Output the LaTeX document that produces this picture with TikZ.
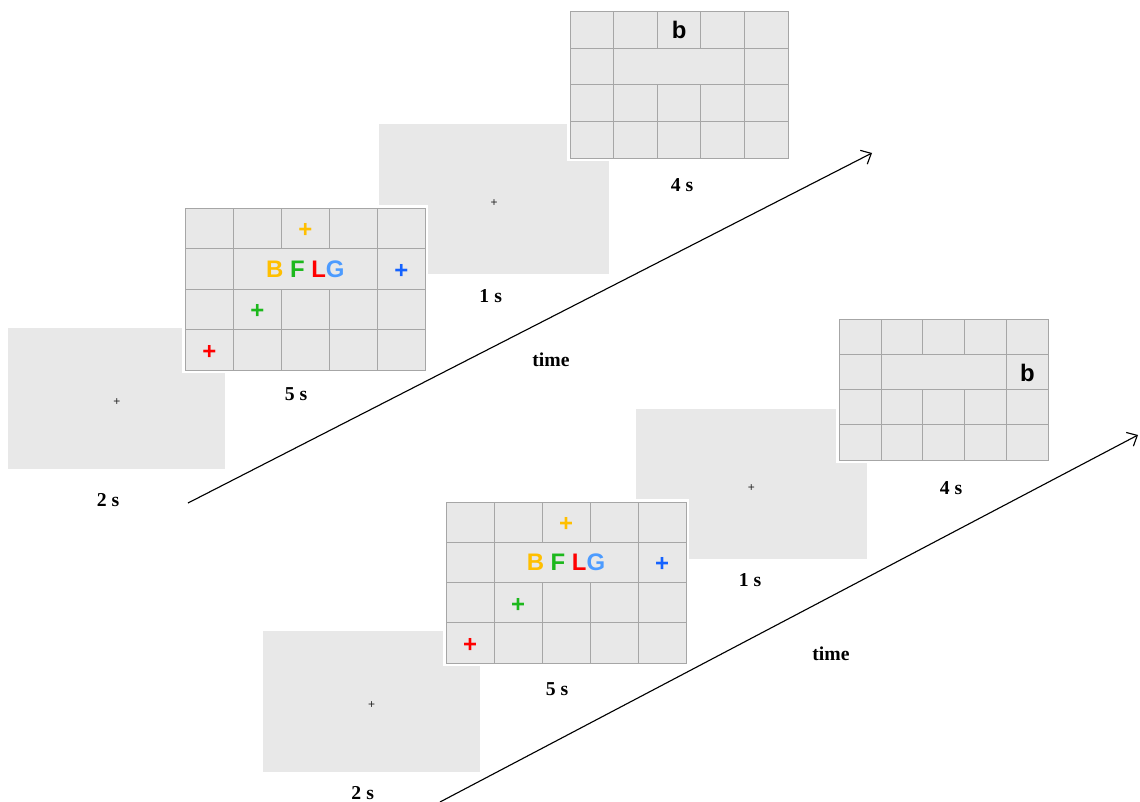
\documentclass[tikz,border=0pt]{standalone}
\usepackage{fontspec}
\setmainfont{Liberation Serif}
\newfontfamily\stimfont{Liberation Sans}
\usepackage{xcolor}
\usepackage{tikz}
\usetikzlibrary{arrows.meta}
\definecolor{screengray}{HTML}{E8E8E8}
\definecolor{gridgray}{HTML}{A6A6A6}
\definecolor{stimorange}{HTML}{FFBF00}
\definecolor{stimgreen}{HTML}{1CB81C}
\definecolor{stimred}{HTML}{FF0000}
\definecolor{stimlblue}{HTML}{4C9BFF}
\definecolor{stimblue}{HTML}{1462FF}
\tikzset{
  gridline/.style={gridgray, line width=0.7pt},
  fixcross/.style={inner sep=0pt, yshift=-2.6pt, font=\stimfont\fontsize{8.5}{9}\selectfont, text=black!85},
  stimtext/.style={inner sep=0pt, font=\stimfont\bfseries\fontsize{17}{20}\selectfont},
  stimplus/.style={stimtext, yshift=-1.5pt},
  durlabel/.style={inner sep=0pt, font=\bfseries\fontsize{14}{16}\selectfont},
  timearrow/.style={line width=0.8pt, -{Straight Barb[length=6pt, width=11pt]}}
}
% fixation screen: name, width, height (px)
\newcommand{\fixscreen}[3]{
    \fill[screengray] (0,0) rectangle (#2,#3);
    \node[fixcross] (#1) at ({#2/2},{#3/2}) {+};
}
% 5 x 4 grid screen, middle of row 2 merged: width, height (px)
\newcommand{\gridscreen}[2]{
    \draw[white, line width=4.3pt] (0,0) rectangle (#1,#2);
    \fill[screengray] (0,0) rectangle (#1,#2);
    \foreach \c in {1,...,4} {
        \draw[gridline] ({\c*#1/5},0) -- ({\c*#1/5},{#2/4});
        \draw[gridline] ({\c*#1/5},{#2/2}) -- ({\c*#1/5},#2);
    }
    \draw[gridline] ({#1/5},{#2/4}) -- ({#1/5},{#2/2});
    \draw[gridline] ({4*#1/5},{#2/4}) -- ({4*#1/5},{#2/2});
    \foreach \r in {1,2,3}
        \draw[gridline] (0,{\r*#2/4}) -- (#1,{\r*#2/4});
    \draw[gridline] (0,0) rectangle (#1,#2);
}
% letters and crosses of the 240 x 162 grid
\newcommand{\bflgitems}[1]{
    \node[stimplus, text=stimorange] (#1po) at (120,20.25) {+};
    \node[stimtext] (#1word) at (120,60.75) {\textcolor{stimorange}{B} \textcolor{stimgreen}{F} \textcolor{stimred}{L}\textcolor{stimlblue}{G}};
    \node[stimplus, text=stimblue] (#1pb) at (216,60.75) {+};
    \node[stimplus, text=stimgreen] (#1pg) at (72,101.25) {+};
    \node[stimplus, text=stimred] (#1pr) at (24,141.75) {+};
}

\begin{document}
\begin{tikzpicture}[x=0.025cm, y=-0.025cm]
    \useasboundingbox (0,0) rectangle (1140,802);

    % 1. Upper sequence
    \begin{scope}[shift={(8.3,328.3)}]
        \fixscreen{fixA}{217}{141}
    \end{scope}
    \begin{scope}[shift={(379,124.3)}]
        \fixscreen{fixB}{230.3}{149.7}
    \end{scope}
    \begin{scope}[shift={(185.3,208.3)}]
        \gridscreen{240}{162}
        \bflgitems{A}
    \end{scope}
    \begin{scope}[shift={(570.3,11.3)}]
        \gridscreen{217.7}{147}
        \node[stimtext, text=black] (probeA) at (108.85,18.9) {b};
    \end{scope}

    \node[durlabel] (durA1) at (108,500) {2 s};
    \node[durlabel] (durA2) at (296,394) {5 s};
    \node[durlabel] (durA3) at (490.7,295.7) {1 s};
    \node[durlabel] (durA4) at (682,185) {4 s};
    \node[durlabel] (timeA) at (551,360) {time};

    \coordinate (startA) at (188,503);
    \coordinate (endA) at (872,153);
    \draw[timearrow] (startA) -- (endA);

    % 2. Lower sequence
    \begin{scope}[shift={(263.3,630.7)}]
        \fixscreen{fixC}{216.7}{141}
    \end{scope}
    \begin{scope}[shift={(636,409)}]
        \fixscreen{fixD}{230.7}{150}
    \end{scope}
    \begin{scope}[shift={(446,502)}]
        \gridscreen{240}{161.3}
        \bflgitems{B}
    \end{scope}
    \begin{scope}[shift={(839.3,319.3)}]
        \gridscreen{209}{140.7}
        \node[stimtext, text=black] (probeB) at (188.1,53.2) {b};
    \end{scope}

    \node[durlabel] (durB1) at (362.7,793) {2 s};
    \node[durlabel] (durB2) at (557,689) {5 s};
    \node[durlabel] (durB3) at (750,580) {1 s};
    \node[durlabel] (durB4) at (951,488) {4 s};
    \node[durlabel] (timeB) at (831,654) {time};

    \coordinate (startB) at (440,802);
    \coordinate (endB) at (1138,435);
    \draw[timearrow] (startB) -- (endB);

\end{tikzpicture}
\end{document}
